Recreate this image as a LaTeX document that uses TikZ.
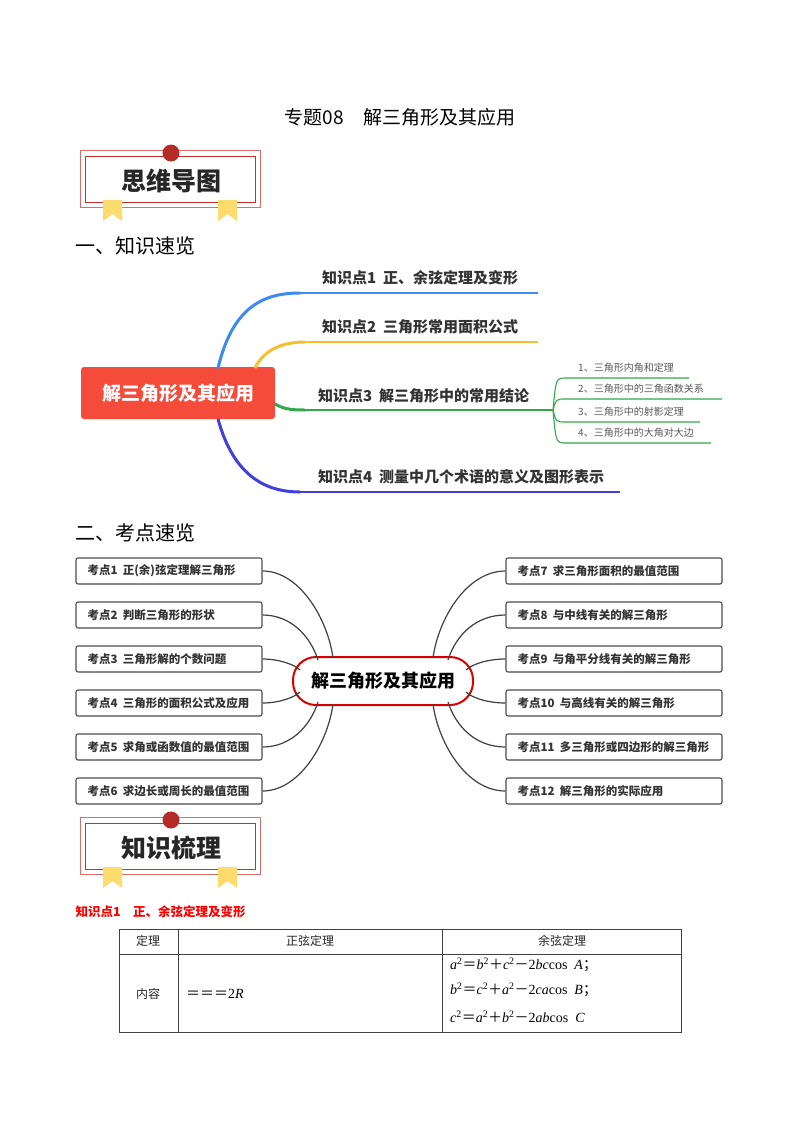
\documentclass[tikz,border=0pt]{standalone}
\usepackage{fontspec}
\setmainfont{Noto Sans CJK SC}
\newfontfamily\latinserif{Liberation Serif}
\newfontfamily\cjkf{Noto Sans CJK SC}
\newcommand{\feq}{{\cjkf ＝}}
\newcommand{\fpl}{{\cjkf ＋}}
\newcommand{\fmi}{{\cjkf －}}
\newcommand{\fsc}{{\cjkf ；}}
\usetikzlibrary{shapes.geometric}
\definecolor{bA}{HTML}{3D8AF0}
\definecolor{bB}{HTML}{F5C02C}
\definecolor{bC}{HTML}{33A84A}
\definecolor{bD}{HTML}{4040E0}
\definecolor{redc}{HTML}{F44B3B}
\definecolor{rib}{HTML}{FDDB6D}
\definecolor{ban}{HTML}{C9302C}
\tikzset{
  lbl/.style={font=\bfseries\fontsize{15}{17}\selectfont, text=black!80, anchor=west, inner sep=0},
  sub/.style={font=\fontsize{10}{11}\selectfont, text=black!65, anchor=west, inner sep=0},
  kbox/.style={draw=black!70, line width=1.1pt, rounded corners=2pt, minimum width=186pt, minimum height=26pt, inner sep=0},
  ktxt/.style={font=\bfseries\fontsize{11.5}{13}\selectfont, text=black!80, anchor=west},
  conn/.style={draw=black!75, line width=1.2pt},
  cell/.style={font=\fontsize{12}{14}\selectfont, text=black!85, inner sep=0},
  mcell/.style={font=\latinserif\fontsize{14}{16}\selectfont, text=black, inner sep=0, anchor=west},
}
\newcommand{\mybanner}[3]{%
  \draw[ban!70, line width=0.8pt] (80,#1) rectangle (260,#1+57);
  \draw[ban, line width=0.8pt] (85,#1+6) rectangle (255,#1+52);
  \foreach \rx in {103,218}{\fill[rib] (\rx,#1+50) -- (\rx+19,#1+50) -- (\rx+19,#1+71) -- (\rx+9.5,#1+64) -- (\rx,#1+71) -- cycle;}
  \fill[ban!90!black] (171,#1+3) circle (8.5);
  \node[font=\bfseries\fontsize{25}{28}\selectfont, text=black!85] (#3) at (171,#1+31) {#2};
}
\begin{document}
\begin{tikzpicture}[x=1pt,y=-1pt]
\useasboundingbox (0,0) rectangle (800,1132);
\fill[white] (0,0) rectangle (800,1132);
\node[font=\fontsize{19}{22}\selectfont] (title) at (400,117) {专题08\quad 解三角形及其应用};
\mybanner{150}{思维导图}{ban1}
\node[anchor=west, font=\fontsize{20}{22}\selectfont] (sec1) at (72,246) {一、知识速览};
% mindmap 1
\node[fill=redc, rounded corners=3pt, minimum width=194pt, minimum height=52pt, text=white, font=\bfseries\fontsize{19}{22}\selectfont] (root) at (178,393) {解三角形及其应用};
\coordinate (e1) at (538,293); \coordinate (s1) at (300,293);
\coordinate (e2) at (538,342); \coordinate (s2) at (305,342);
\coordinate (e3) at (553,410); \coordinate (s3) at (305,410);
\coordinate (e4) at (620,492); \coordinate (s4) at (300,492);
\draw[bA, line width=3pt, line cap=round] (218,368) .. controls (232,310) and (260,293) .. (s1);
\draw[bA, line width=1.5pt] (s1) -- (e1);
\draw[bB, line width=3pt] (255,368) .. controls (265,348) and (285,342) .. (s2);
\draw[bB, line width=1.5pt] (s2) -- (e2);
\draw[bC, line width=3pt] (275,404) .. controls (285,410) and (295,410) .. (s3);
\draw[bC, line width=1.5pt] (s3) -- (e3);
\draw[bD, line width=3pt] (218,419) .. controls (232,470) and (260,492) .. (s4);
\draw[bD, line width=1.5pt] (s4) -- (e4);
\node[lbl] (k1) at (322,278) {知识点1\ \ 正、余弦定理及变形};
\node[lbl] (k2) at (322,327) {知识点2\ \ 三角形常用面积公式};
\node[lbl] (k3) at (318,396) {知识点3\ \ 解三角形中的常用结论};
\node[lbl] (k4) at (318,477) {知识点4\ \ 测量中几个术语的意义及图形表示};
\foreach \yy/\xe/\t [count=\i] in {378/689/{1、三角形内角和定理},399/722/{2、三角形中的三角函数关系},422/700/{3、三角形中的射影定理},443/711/{4、三角形中的大角对大边}}{
  \coordinate (q\i) at (\xe,\yy);
  \draw[bC, line width=1.1pt] (e3) .. controls (556,\yy) and (556,\yy) .. (566,\yy) -- (q\i);
  \node[sub] (t\i) at (578,\yy-10) {\t};
}
% section 2
\node[anchor=west, font=\fontsize{20}{22}\selectfont] (sec2) at (72,533) {二、考点速览};
\node[draw=red!85!black, line width=2pt, rounded corners=23pt, minimum width=180pt, minimum height=48pt, font=\bfseries\fontsize{18}{20}\selectfont] (c) at (383,681) {解三角形及其应用};
\foreach \yy/\t [count=\i] in {571/{考点1\ \ 正(余)弦定理解三角形},615/{考点2\ \ 判断三角形的形状},659/{考点3\ \ 三角形解的个数问题},703/{考点4\ \ 三角形的面积公式及应用},747/{考点5\ \ 求角或函数值的最值范围},791/{考点6\ \ 求边长或周长的最值范围}}{
  \node[kbox] (L\i) at (169,\yy) {};
  \node[ktxt] (LT\i) at (84,\yy) {\t};
}
\foreach \yy/\t [count=\i from 7] in {571/{考点7\ \ 求三角形面积的最值范围},615/{考点8\ \ 与中线有关的解三角形},659/{考点9\ \ 与角平分线有关的解三角形},703/{考点10\ \ 与高线有关的解三角形},747/{考点11\ \ 多三角形或四边形的解三角形},791/{考点12\ \ 解三角形的实际应用}}{
  \node[kbox, minimum width=216pt] (R\i) at (614,\yy) {};
  \node[ktxt] (RT\i) at (514,\yy) {\t};
}
\draw[conn] (L1.east) .. controls (300,571) and (328,620) .. (333,658);
\draw[conn] (L2.east) .. controls (290,615) and (310,635) .. (318,660);
\draw[conn] (L3.east) .. controls (280,659) and (295,665) .. (300,670);
\draw[conn] (L4.east) .. controls (280,703) and (295,697) .. (300,692);
\draw[conn] (L5.east) .. controls (290,747) and (310,727) .. (318,702);
\draw[conn] (L6.east) .. controls (300,791) and (328,742) .. (333,704);
\draw[conn] (R7.west) .. controls (466,571) and (438,620) .. (433,658);
\draw[conn] (R8.west) .. controls (476,615) and (456,635) .. (448,660);
\draw[conn] (R9.west) .. controls (486,659) and (471,665) .. (466,670);
\draw[conn] (R10.west) .. controls (486,703) and (471,697) .. (466,692);
\draw[conn] (R11.west) .. controls (476,747) and (456,727) .. (448,702);
\draw[conn] (R12.west) .. controls (466,791) and (438,742) .. (433,704);
% knowledge
\mybanner{817}{知识梳理}{ban2}
\node[anchor=west, text=red, font=\bfseries\fontsize{12.5}{14}\selectfont] (kp1) at (72,912) {知识点1\quad 正、余弦定理及变形};
\draw[black!75, line width=0.9pt] (119,929) rectangle (681,1032);
\draw[black!75, line width=0.8pt] (119,954) -- (681,954) (178,929) -- (178,1032) (442,929) -- (442,1032);
\node[cell] (h1) at (148,941) {定理};
\node[cell] (h2) at (310,941) {正弦定理};
\node[cell] (h3) at (562,941) {余弦定理};
\node[cell] (h4) at (148,994) {内容};
\node[mcell] (sine) at (186,994) {\feq\feq\feq 2\textit{R}};
\node[mcell] (cos1) at (450,965) {\textit{a}\textsuperscript{2}\feq\textit{b}\textsuperscript{2}\fpl\textit{c}\textsuperscript{2}\fmi 2\textit{bc}cos\ \ \textit{A}\fsc};
\node[mcell] (cos2) at (450,990) {\textit{b}\textsuperscript{2}\feq\textit{c}\textsuperscript{2}\fpl\textit{a}\textsuperscript{2}\fmi 2\textit{ca}cos\ \ \textit{B}\fsc};
\node[mcell] (cos3) at (450,1017) {\textit{c}\textsuperscript{2}\feq\textit{a}\textsuperscript{2}\fpl\textit{b}\textsuperscript{2}\fmi 2\textit{ab}cos\ \ \textit{C}};
\end{tikzpicture}
\end{document}
